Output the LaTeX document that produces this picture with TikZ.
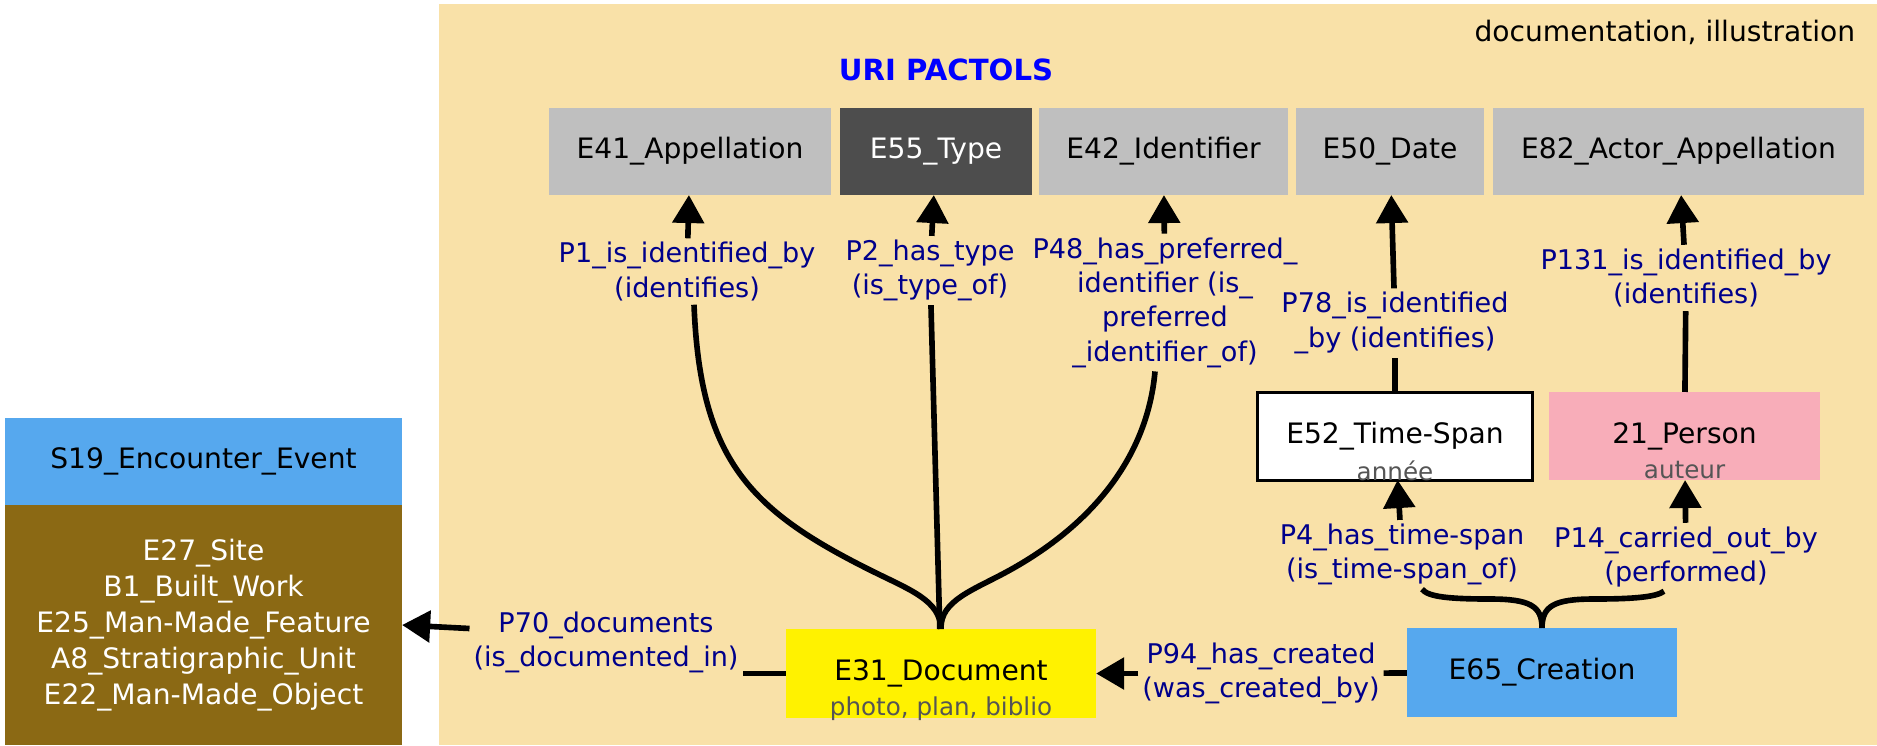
\documentclass[tikz,border=0pt]{standalone}
\usepackage{fontspec}
\setmainfont{DejaVu Sans}
\usepackage{tikz}
\usetikzlibrary{arrows.meta}
\definecolor{clusterbg}{RGB}{249,225,168}
\definecolor{boxgray}{RGB}{191,191,191}
\definecolor{typegray}{RGB}{77,77,77}
\definecolor{evblue}{RGB}{86,168,238}
\definecolor{sitebrown}{RGB}{139,105,20}
\definecolor{actorpink}{RGB}{248,173,185}
\definecolor{propblue}{RGB}{0,0,139}
\definecolor{subgray}{RGB}{85,85,85}

\begin{document}
\begin{tikzpicture}[x=0.01cm, y=-0.01cm, line width=1.6pt,
  entity/.style = {rectangle, inner sep=0pt, outer sep=0pt, minimum height=0.87cm, align=center, font=\fontsize{8}{10.2}\selectfont},
  prop/.style = {inner sep=0.04cm, outer sep=0pt, text=propblue, align=center, font=\fontsize{7.7}{9.75}\selectfont},
  sub/.style = {inner sep=0pt, text=subgray, font=\fontsize{7}{8}\selectfont},
  arr/.style = {-{Triangle[length=0.28cm, width=0.31cm]}}]
  \useasboundingbox (0,0) rectangle (1877,745);
  \fill[clusterbg] (439,4) rectangle (1877,745);
  \node[anchor=east, inner sep=0pt, font=\fontsize{8}{10}\selectfont] (doclabel) at (1858,32) {documentation, illustration};
  \node[text=blue, font=\bfseries\fontsize{8.3}{10}\selectfont] (uri) at (946,70) {URI PACTOLS};

  \node[entity, fill=boxgray, minimum width=2.82cm] (e41) at (690,151.5) {E41\_Appellation};
  \node[entity, fill=typegray, text=white, minimum width=1.92cm] (e55) at (936,151.5) {E55\_Type};
  \node[entity, fill=boxgray, minimum width=2.49cm] (e42) at (1163.5,151.5) {E42\_Identifier};
  \node[entity, fill=boxgray, minimum width=1.88cm] (e50) at (1390,151.5) {E50\_Date};
  \node[entity, fill=boxgray, minimum width=3.71cm] (e82) at (1678.5,151.5) {E82\_Actor\_Appellation};
  \node[entity, fill=white, draw, line width=0.85pt, minimum width=2.74cm, label={[sub, yshift=-0.34cm]center:année}] (e52) at (1395,436.5) {E52\_Time-Span};
  \node[entity, fill=actorpink, minimum width=2.71cm, minimum height=0.88cm, label={[sub, yshift=-0.34cm]center:auteur}] (person) at (1684.5,436) {21\_Person};
  \node[entity, fill=evblue, minimum width=2.7cm, minimum height=0.89cm] (e65) at (1542,672.5) {E65\_Creation};
  \node[entity, fill=yellow, minimum width=3.1cm, minimum height=0.89cm, label={[sub, yshift=-0.35cm]center:photo, plan, biblio}] (e31) at (941,673.5) {E31\_Document};
  \node[entity, fill=evblue, minimum width=3.97cm] (s19) at (203.5,461.5) {S19\_Encounter\_Event};
  \node[entity, fill=sitebrown, text=white, minimum width=3.97cm, minimum height=2.4cm] (sites) at (203.5,625) {E27\_Site\\B1\_Built\_Work\\E25\_Man-Made\_Feature\\A8\_Stratigraphic\_Unit\\E22\_Man-Made\_Object};

  \node[prop] (p1) at (687,271.5) {P1\_is\_identified\_by\\(identifies)};
  \node[prop] (p2) at (930,270.5) {P2\_has\_type\\(is\_type\_of)};
  \node[prop] (p48) at (1165,302.5) {P48\_has\_preferred\_\\identifier (is\_\\preferred\\\_identifier\_of)};
  \node[prop] (p78) at (1395,323) {P78\_is\_identified\\\_by (identifies)};
  \node[prop] (p131) at (1686,278) {P131\_is\_identified\_by\\(identifies)};
  \node[prop] (p4) at (1402,554.5) {P4\_has\_time-span\\(is\_time-span\_of)};
  \node[prop] (p14) at (1686,557) {P14\_carried\_out\_by\\(performed)};
  \node[prop] (p94) at (1261,673.5) {P94\_has\_created\\(was\_created\_by)};
  \node[prop] (p70) at (606,642.5) {P70\_documents\\(is\_documented\_in)};

  \draw (e31.north) .. controls (940,600) and (910,590) .. (870,570) .. controls (750,510) and (700,460) .. ([xshift=0.07cm]p1.south);
  \draw[arr] (p1) -- (e41);
  \draw (e31) -- (p2);
  \draw[arr] (p2) -- (e55);
  \draw (e31.north) .. controls (940,600) and (974,590) .. (1010,570) .. controls (1100,520) and (1148,450) .. ([xshift=-0.1cm]p48.south);
  \draw[arr] (p48) -- (e42);
  \draw (e52) -- (p78);
  \draw[arr] (p78) -- (e50);
  \draw (person) -- (p131);
  \draw[arr] (p131) -- (e82);
  \draw (e65.north) .. controls (1542,606) and (1530,599) .. (1490,599) .. controls (1450,599) and (1428,597) .. ([xshift=0.2cm]p4.south);
  \draw (e65.north) .. controls (1542,606) and (1554,599) .. (1594,599) .. controls (1634,599) and (1656,597) .. ([xshift=-0.22cm]p14.south);
  \draw[arr] (p4) -- (e52);
  \draw[arr] (p14) -- (person);
  \draw (e65) -- (p94);
  \draw[arr] (p94) -- (e31);
  \draw (e31.west) -- (e31.west -| p70.east);
  \draw[arr] ([yshift=0.14cm]p70.west) -- (sites.east);
\end{tikzpicture}
\end{document}
